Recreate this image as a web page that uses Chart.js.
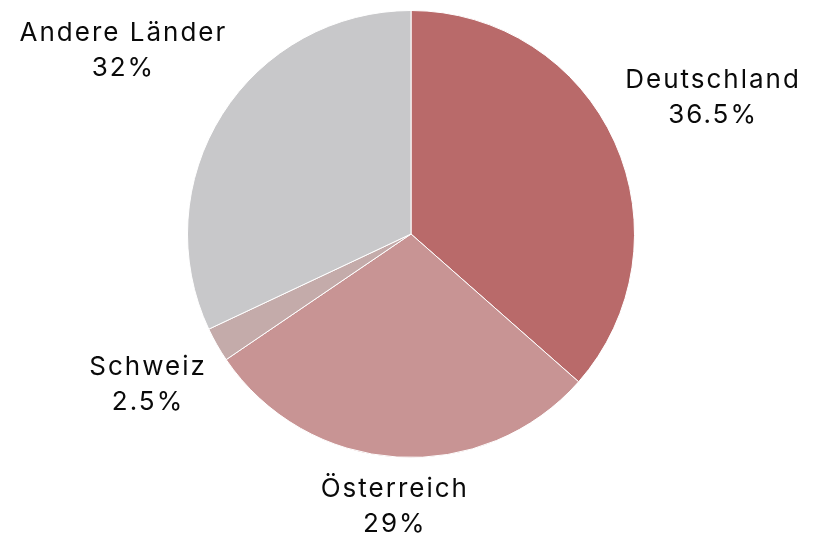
<!DOCTYPE html>
<html>
<head>
<meta charset="utf-8">
<script src="https://cdn.jsdelivr.net/npm/chart.js@4.4.1/dist/chart.umd.min.js"></script>
<style>
  html, body { margin: 0; padding: 0; background: #fff; }
  #wrap { width: 814px; height: 536px; }
</style>
</head>
<body>
<div id="wrap"><canvas id="myChart"></canvas></div>
<script>
// shares by country
var labels = ["Deutschland", "Österreich", "Schweiz", "Andere Länder"];
var values = [36.5, 29, 2.5, 32];
var colors = ["#b96a6a", "#c89494", "#c4abaa", "#c8c8ca"];

var FONT = "26px Inter, 'Open Sans', sans-serif";

// labels outside the slices, pushed out so the text box clears the pie
var outsideLabels = {
  id: 'outsideLabels',
  afterDatasetsDraw: function(chart) {
    var ctx = chart.ctx;
    var meta = chart.getDatasetMeta(0);
    ctx.save();
    ctx.font = FONT;
    ctx.fillStyle = '#0a0a0a';
    ctx.textAlign = 'center';
    ctx.textBaseline = 'middle';
    if ('letterSpacing' in ctx) ctx.letterSpacing = '2px';
    meta.data.forEach(function(arc, i) {
      var p = arc.getProps(['x', 'y', 'startAngle', 'endAngle', 'outerRadius'], true);
      var mid = (p.startAngle + p.endAngle) / 2;
      var c = Math.cos(mid), s = Math.sin(mid);
      var lines = [labels[i], values[i] + '%'];
      var w = Math.max(ctx.measureText(lines[0]).width, ctx.measureText(lines[1]).width) / 2;
      var lh = 35;
      var h = lh * lines.length / 2 - 4;
      var d = p.outerRadius + 14 + w * Math.abs(c) + h * Math.abs(s);
      var cx = p.x + d * c, cy = p.y + d * s;
      // letterSpacing adds trailing space, nudge back to centre
      cx += 1;
      ctx.fillText(lines[0], cx, cy - lh / 2);
      ctx.fillText(lines[1], cx, cy + lh / 2);
    });
    ctx.restore();
  }
};

var ctx = document.getElementById('myChart').getContext('2d');
var chart = new Chart(ctx, {
  type: 'pie',
  data: {
    labels: labels,
    datasets: [{
      data: values,
      backgroundColor: colors,
      borderColor: '#fff',
      borderWidth: 1
    }]
  },
  options: {
    responsive: true,
    maintainAspectRatio: false,
    animation: false,
    layout: { padding: { top: 10, bottom: 78, left: 150, right: 142 } },
    plugins: {
      legend: { display: false },
      tooltip: { enabled: false }
    }
  },
  plugins: [outsideLabels]
});
</script>
</body>
</html>
